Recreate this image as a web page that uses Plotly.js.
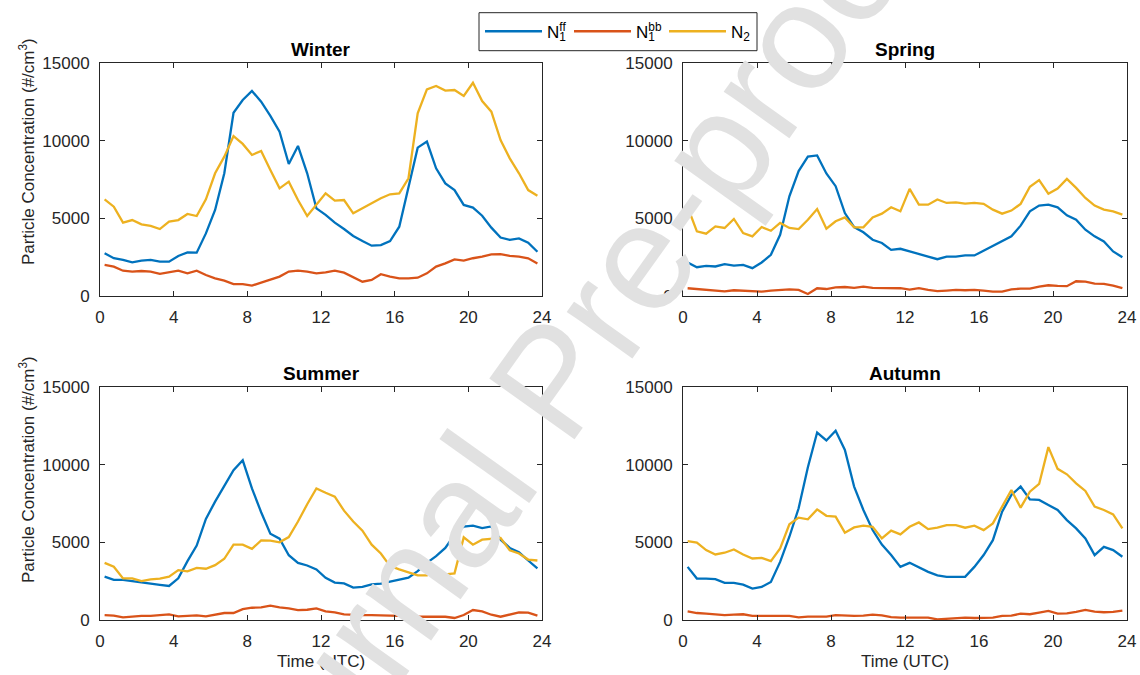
<!DOCTYPE html>
<html><head><meta charset="utf-8">
<script src="https://cdn.plot.ly/plotly-3.0.1.min.js"></script>
<style>html,body{margin:0;padding:0;background:#fff}#chart{width:1140px;height:675px}</style>
</head><body><div id="chart"></div>
<script>
const hours = [0.25,0.75,1.25,1.75,2.25,2.75,3.25,3.75,4.25,4.75,5.25,5.75,6.25,6.75,7.25,7.75,8.25,8.75,9.25,9.75,10.25,10.75,11.25,11.75,12.25,12.75,13.25,13.75,14.25,14.75,15.25,15.75,16.25,16.75,17.25,17.75,18.25,18.75,19.25,19.75,20.25,20.75,21.25,21.75,22.25,22.75,23.25,23.75];
const xTicks = [0,4,8,12,16,20,24];
const yTicks = [0,5000,10000,15000];
const yTickText = ['0','5000','10000','15000'];

const winterN1ff = [2750,2430,2320,2170,2280,2320,2210,2210,2580,2810,2790,4030,5540,7900,11800,12620,13200,12510,11590,10580,8500,9660,7900,5640,5220,4720,4310,3860,3540,3240,3280,3540,4460,7040,9550,9940,8220,7250,6820,5860,5690,5170,4400,3760,3610,3710,3430,2850];
const winterN1bb = [2000,1890,1630,1570,1610,1570,1420,1520,1630,1460,1630,1350,1140,990,770,770,670,860,1070,1250,1570,1630,1570,1460,1520,1630,1500,1200,920,1030,1400,1250,1140,1140,1180,1460,1890,2100,2360,2280,2430,2530,2680,2700,2580,2530,2430,2100];
const winterN2 = [6220,5750,4720,4890,4610,4510,4310,4790,4890,5280,5150,6220,7900,8970,10300,9790,9080,9340,8110,6930,7360,6180,5150,5860,6610,6140,6180,5320,5640,5970,6290,6550,6610,7580,11760,13300,13520,13220,13260,12880,13730,12550,11870,10040,8860,7900,6820,6460];

const springN1ff = [2160,1850,1940,1900,2050,1960,2000,1790,2160,2650,3940,6420,8040,8970,9050,7890,7070,5340,4440,4100,3620,3410,2970,3040,2870,2720,2540,2370,2540,2540,2610,2610,2910,3250,3510,3840,4530,5450,5820,5880,5710,5190,4910,4270,3840,3510,2870,2500];
const springN1bb = [500,450,390,320,300,370,350,320,280,350,410,430,390,130,500,450,560,580,520,600,520,500,500,500,410,500,390,320,350,390,370,390,350,280,280,430,470,470,600,690,650,630,950,930,800,780,670,500];
const springN2 = [5730,4160,4010,4480,4380,4960,4050,3840,4440,4200,4700,4380,4310,4910,5600,4330,4810,5060,4420,4420,5060,5300,5710,5450,6900,5880,5880,6210,5990,6030,5950,5990,5930,5560,5300,5500,5930,7030,7460,6590,6920,7540,6960,6310,5820,5560,5450,5240];

const summerN1ff = [2790,2580,2580,2510,2450,2340,2260,2190,2680,3790,4790,6510,7620,8620,9640,10280,8470,6940,5550,5240,4170,3680,3510,3260,2720,2410,2360,2090,2130,2300,2340,2470,2580,2720,3150,3680,4110,4640,5490,6020,6070,5920,6020,5170,4640,4360,3830,3320];
const summerN1bb = [320,280,170,230,260,260,320,360,230,260,300,230,340,450,450,700,790,810,920,810,750,640,660,750,550,490,360,320,320,320,320,280,260,260,210,230,210,210,130,320,640,550,340,210,340,490,470,280];
const summerN2 = [3680,3430,2680,2680,2510,2620,2660,2790,3210,3130,3360,3300,3530,3940,4850,4850,4580,5130,5110,5000,5340,6340,7450,8470,8190,7940,7040,6340,5750,4850,4280,3470,3260,3040,2870,2870,3110,2940,3000,5320,4850,5170,5240,5280,4490,4280,3890,3830];

const autumnN1ff = [3420,2670,2670,2630,2390,2390,2280,2020,2130,2450,3740,5360,7190,9840,12070,11560,12180,10950,8590,7080,5790,4860,4180,3420,3680,3380,3100,2880,2780,2780,2780,3420,4180,5140,6970,8050,8590,7770,7730,7400,7080,6430,5900,5250,4180,4710,4500,4070];
const autumnN1bb = [560,450,410,370,320,340,370,260,260,260,260,260,170,220,220,220,320,280,260,280,340,300,190,150,150,150,150,40,90,130,150,130,150,150,260,280,410,370,470,580,410,430,520,650,540,500,520,600];
const autumnN2 = [5080,4990,4500,4220,4330,4540,4220,3960,4000,3790,4610,6160,6590,6480,7120,6710,6650,5620,5960,6070,6000,5250,5750,5510,6000,6280,5850,5940,6110,6110,5940,6070,5790,6220,7300,8370,7230,8260,8760,11130,9730,9380,8800,8310,7300,7080,6800,5900];

const seasons = ['Winter','Spring','Summer','Autumn'];
const stackedSub = '<sub><span style="letter-spacing:-6.6px">1</span></sub>';
const seriesNames = ['N' + stackedSub + '<sup>ff</sup>', 'N' + stackedSub + '<sup>bb</sup>', 'N<sub>2</sub>'];
const colors = ['#0072BD','#D95319','#EDB120'];
const seasonData = [
  [winterN1ff, winterN1bb, winterN2],
  [springN1ff, springN1bb, springN2],
  [summerN1ff, summerN1bb, summerN2],
  [autumnN1ff, autumnN1bb, autumnN2]
];

const W = 1140, H = 675;
const xDom = [[100/W, 542/W],[683/W, 1127/W]];
const yDom = [[1-296/H, 1-63/H],[1-620/H, 1-387/H]];
const FONT = 'Liberation Sans, Arial, Helvetica, sans-serif';
const axColor = '#262626';
const legendIds = ['legend','legend2','legend3'];
const legendLeft = [480, 569, 664];

const traces = [];
seasonData.forEach((series, si) => {
  const ax = si === 0 ? '' : String(si+1);
  series.forEach((vals, ti) => {
    traces.push({
      type:'scatter', mode:'lines', x: hours, y: vals,
      xaxis:'x'+ax, yaxis:'y'+ax,
      name: seriesNames[ti], legendgroup: 'g'+ti, showlegend: si === 0,
      legend: legendIds[ti],
      line:{color: colors[ti], width: 2.3}
    });
  });
});

const layout = {
  width: W, height: H, autosize:false,
  margin:{l:0,r:0,t:0,b:0},
  paper_bgcolor:'#fff', plot_bgcolor:'#fff',
  font:{family: FONT, size:17, color: axColor},
  showlegend: true,
  annotations: [],
  shapes: [{
    type:'rect', xref:'paper', yref:'paper', x0: 479/W, x1: 757/W, y0: 1-50.7/H, y1: 1-12.7/H,
    line:{color: axColor, width:1}, fillcolor:'#fff', layer:'above'
  }]
};
legendIds.forEach((id, i) => {
  layout[id] = {orientation:'h', x: legendLeft[i]/W, y: 1-31.7/H, xanchor:'left', yanchor:'middle',
    borderwidth: 0, bgcolor:'rgba(0,0,0,0)', font:{family: FONT, size:17, color:'#000'}, itemwidth: 57};
});

seasons.forEach((s, si) => {
  const col = si % 2, row = Math.floor(si/2);
  const ax = si === 0 ? '' : String(si+1);
  layout['xaxis'+ax] = {
    domain: xDom[col], range:[0,24], tickvals: xTicks, ticks:'inside', ticklen:5, tickwidth:1,
    tickcolor: axColor, showline:true, linecolor: axColor, linewidth:1, mirror:'ticks',
    showgrid:false, zeroline:false, anchor:'y'+ax, fixedrange:true,
    tickfont:{family:FONT, size:17, color:axColor}, ticklabelstandoff: 6
  };
  layout['yaxis'+ax] = {
    domain: yDom[row], range:[0,15000], tickvals: yTicks, ticktext: yTickText, ticks:'inside', ticklen:5, tickwidth:1,
    tickcolor: axColor, showline:true, linecolor: axColor, linewidth:1, mirror:'ticks',
    showgrid:false, zeroline:false, anchor:'x'+ax, fixedrange:true,
    tickfont:{family:FONT, size:17, color:axColor}, ticklabelstandoff: 6
  };
  layout.annotations.push({
    text:'<b>'+s+'</b>', xref:'paper', yref:'paper',
    x:(xDom[col][0]+xDom[col][1])/2, y: yDom[row][1], xanchor:'center', yanchor:'bottom', yshift:1,
    showarrow:false, font:{family:FONT, size:19, color:'#000'}
  });
});

// y-axis titles
[[1-152/H],[1-470/H]].forEach(v => {
  layout.annotations.push({
    text:'Particle Concentration (#/cm<sup>3</sup>)', xref:'paper', yref:'paper',
    x: 27/W, y: v[0], xanchor:'center', yanchor:'middle', textangle:-90,
    showarrow:false, font:{family:FONT, size:17, color:axColor}
  });
});
// x-axis titles
[0,1].forEach(col => {
  layout.annotations.push({
    text:'Time (UTC)', xref:'paper', yref:'paper',
    x:(xDom[col][0]+xDom[col][1])/2, y: 1-661/H, xanchor:'center', yanchor:'middle',
    showarrow:false, font:{family:FONT, size:17, color:axColor}
  });
});
// watermark
layout.annotations.push({
  text:'Journal Pre-proof', xref:'paper', yref:'paper', x: 551/W, y: 1-381/H,
  xanchor:'center', yanchor:'middle', textangle:-54.5, showarrow:false,
  font:{family:FONT, size:152, color:'#e1e1e1'}
});

Plotly.newPlot('chart', traces, layout, {staticPlot:true, displayModeBar:false});
</script>
</body></html>
